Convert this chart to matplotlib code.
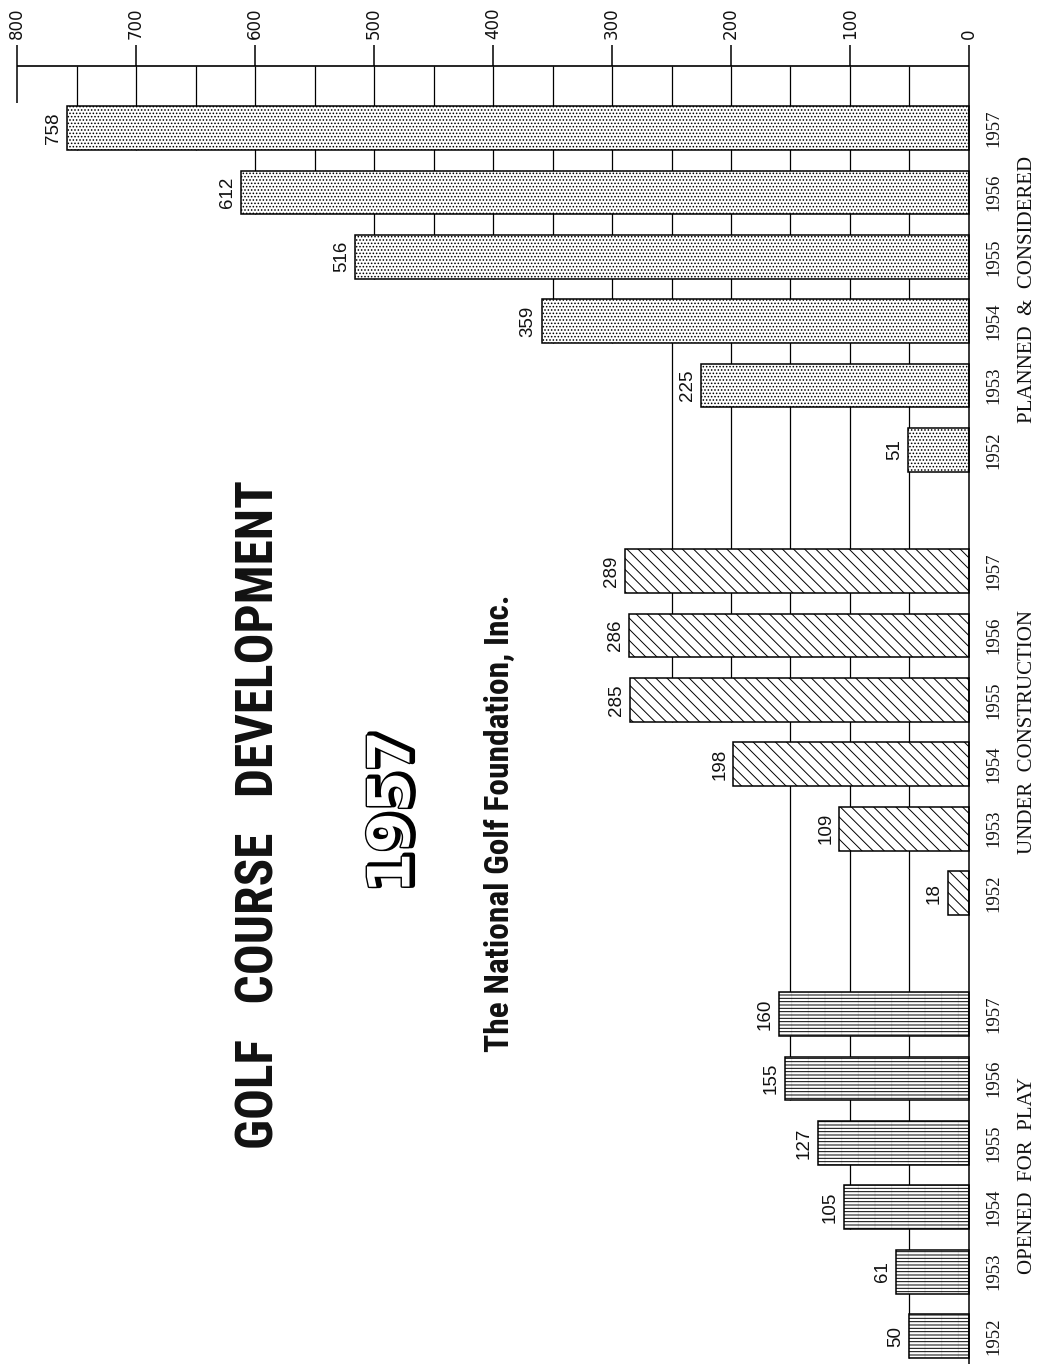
import matplotlib
matplotlib.use("Agg")
import matplotlib.pyplot as plt
import matplotlib.patheffects as pe
from matplotlib import font_manager
import numpy as np

# ---- data -------------------------------------------------------------
years = ["1952", "1953", "1954", "1955", "1956", "1957"]
opened_for_play = [50, 61, 105, 127, 155, 160]
under_construction = [18, 109, 198, 285, 286, 289]
planned_considered = [51, 225, 359, 516, 612, 758]
group_names = ["PLANNED  &  CONSIDERED", "UNDER  CONSTRUCTION", "OPENED  FOR  PLAY"]
tick_values = [0, 100, 200, 300, 400, 500, 600, 700, 800]

# ---- fonts ------------------------------------------------------------
available = {f.name for f in font_manager.fontManager.ttflist}
condensed = next((n for n in ["Liberation Sans Narrow", "Roboto Condensed",
                              "Open Sans Condensed", "DejaVu Sans"]
                  if n in available), "DejaVu Sans")
serif = "Liberation Serif" if "Liberation Serif" in available else "DejaVu Serif"
sans = "Liberation Sans" if "Liberation Sans" in available else "DejaVu Sans"

plt.rcParams["hatch.linewidth"] = 0.7

# ---- layout -----------------------------------------------------------
W, H = 1048, 1364
PX_PER_UNIT = 1.19      # pixels per course on the value axis
ZERO_PX = 969           # pixel column of the zero baseline
SLOT_PX = 64.4          # pixels between neighbouring bars
FIRST_PX = 128          # pixel row of the first bar centre
GROUP_GAP = 0.88        # extra space between groups, in slots
BAR_H = 0.68

fig = plt.figure(figsize=(W / 100, H / 100), dpi=100)
fig.patch.set_facecolor("white")
ax = fig.add_axes([0, 0, 1, 1])
ax.set_xlim(ZERO_PX / PX_PER_UNIT, (ZERO_PX - W) / PX_PER_UNIT)
ax.set_ylim((H - FIRST_PX) / SLOT_PX, -FIRST_PX / SLOT_PX)
ax.axis("off")

def px_to_slot(py):
    return (py - FIRST_PX) / SLOT_PX

def px_to_val(px):
    return (ZERO_PX - px) / PX_PER_UNIT

FRAME_Y = px_to_slot(66)
TICK_TOP = px_to_slot(45)
LABEL_BASE = px_to_slot(39)
STUB_END = px_to_slot(103)
BOTTOM = px_to_slot(H)

# groups top to bottom; within each group the latest year is on top
series = [
    (planned_considered, "....."),
    (under_construction, "\\\\\\"),
    (opened_for_play, "-----"),
]

all_slots, all_vals = [], []
group_centres = []
for g, (vals, hatch) in enumerate(series):
    slots = [g * (len(years) + GROUP_GAP) + j for j in range(len(years))]
    group_centres.append(np.mean(slots))
    for slot, yr, v in zip(slots, years[::-1], vals[::-1]):
        if g == 2:
            # white backing plus faint vertical streaks in the ruled fill
            ax.barh(slot, v, height=BAR_H, left=0, color="white",
                    linewidth=0, zorder=2)
            ax.barh(slot, v, height=BAR_H, left=0, fill=False,
                    edgecolor="#e2e2e2", hatch="|", linewidth=0, zorder=3)
        ax.barh(slot, v, height=BAR_H, left=0,
                color="white" if g != 2 else "none",
                edgecolor="black", hatch=hatch, linewidth=1.1, zorder=4)
        # value label at the end of the bar
        ax.text(v + 5 / PX_PER_UNIT, slot, str(v), rotation=90, ha="right",
                va="center", fontsize=13.5, family=sans, color="#111111")
        # year label right of the baseline
        ax.text(px_to_val(985), slot, yr, rotation=90, ha="left", va="center",
                fontsize=13.5, family=serif, color="#111111")
        all_slots.append(slot)
        all_vals.append(v)

# grid lines every 50 run down to the lowest bar that reaches them
for gv in np.arange(50, 800, 50):
    reach = [s for s, v in zip(all_slots, all_vals) if v >= gv]
    end = max(reach) + BAR_H / 2
    ax.vlines(gv, FRAME_Y, end, color="black", lw=0.9, zorder=1)

# top frame line with ticks and labels
ax.hlines(FRAME_Y, tick_values[-1], 0, color="black", lw=1.2, zorder=5)
for t in tick_values:
    if t == 0:
        y_end = BOTTOM
    elif t == tick_values[-1]:
        y_end = STUB_END
    else:
        y_end = FRAME_Y
    ax.vlines(t, TICK_TOP, y_end, color="black", lw=1.1, zorder=5)
    ax.text(t, LABEL_BASE, str(t), rotation=90, ha="center", va="bottom",
            fontsize=12, family="DejaVu Sans", color="#111111")

# group captions
for name, centre in zip(group_names, group_centres):
    ax.text(px_to_val(1028), centre, name, rotation=90, ha="center",
            va="center", fontsize=15, family=serif, color="#111111")

# ---- titles -----------------------------------------------------------
def fpos(px, py):
    return px / W, 1 - py / H

fig.text(*fpos(259, 815), "GOLF   COURSE   DEVELOPMENT", rotation=90,
         ha="center", va="center", fontsize=37, fontweight="bold",
         family=condensed, color="#111111")

fig.text(*fpos(393, 812), "1957", rotation=90, ha="center", va="center",
         fontsize=42, fontweight="bold", family="DejaVu Sans", color="white",
         path_effects=[pe.Stroke(linewidth=4, foreground="black", offset=(2, 1)),
                       pe.Stroke(linewidth=2, foreground="black"),
                       pe.Normal()])

fig.text(*fpos(500, 823), "The National Golf Foundation, Inc.", rotation=90,
         ha="center", va="center", fontsize=24, fontweight="bold",
         family=condensed, color="#111111")

fig.savefig("out.png", dpi=100, facecolor="white")
